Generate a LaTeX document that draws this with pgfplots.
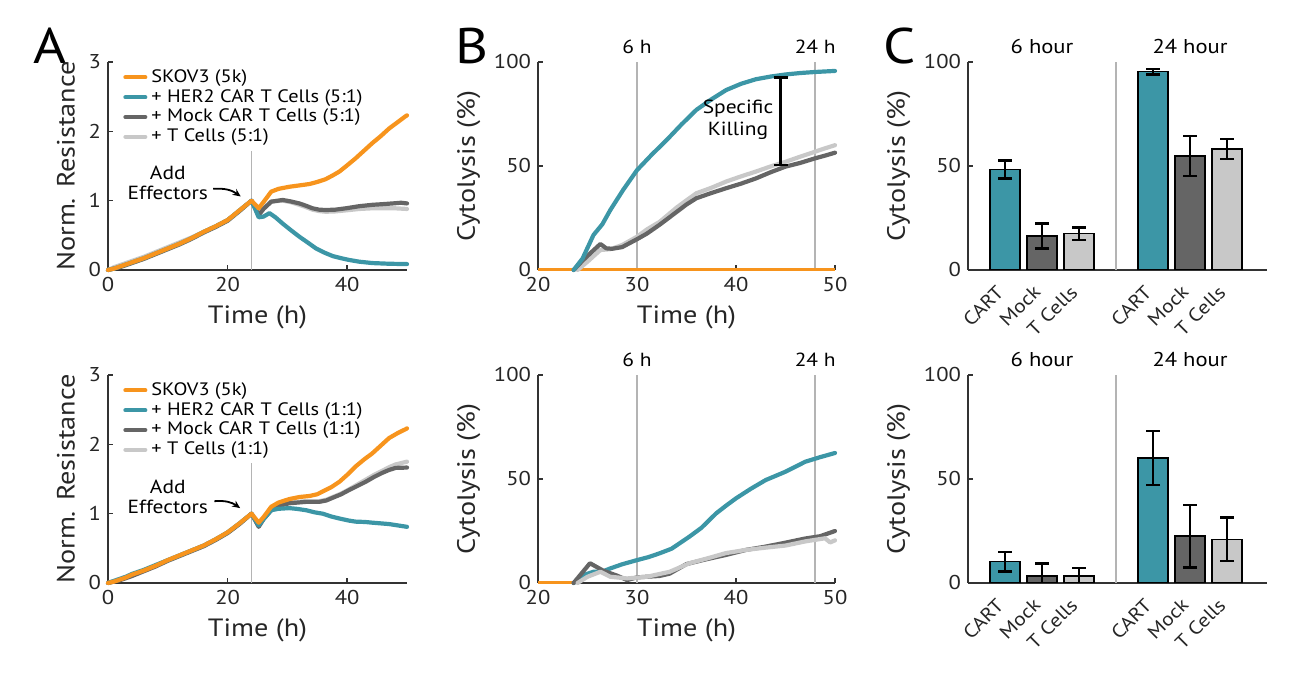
\documentclass[border=0pt]{standalone}
\usepackage{fontspec}
\setmainfont{PT Sans}[FakeStretch=1.13]
\usepackage{pgfplots}
\pgfplotsset{compat=1.18}
\usetikzlibrary{arrows.meta}
\definecolor{corange}{HTML}{F7941D}
\definecolor{cteal}{HTML}{3C96A6}
\definecolor{cdark}{HTML}{656565}
\definecolor{clight}{HTML}{C8C8C8}
\definecolor{cref}{HTML}{B4B4B4}
\definecolor{caxis}{HTML}{333333}
\pgfplotsset{
  panel/.style={
    scale only axis,
    axis lines*=left,
    axis line style={-, line width=1pt, color=caxis},
    tick style={line width=0.8pt, color=caxis},
    tick align=inside,
    major tick length=2.5pt,
    tick label style={font=\fontsize{10}{11}\selectfont, color=black!85},
    label style={font=\fontsize{12.5}{14}\selectfont, color=black!85},
    /pgf/number format/assume math mode=true,
  },
  dl/.style={line width=2.1pt, line join=round, line cap=round},
  refl/.style={line width=0.8pt, color=cref, forget plot},
  legA/.style={
    legend style={at={(0.05,0.985)}, anchor=north west, draw=none, fill=none,
      font=\fontsize{9}{10}\selectfont, row sep=-2pt, inner sep=0pt, cells={anchor=west}},
    legend image code/.code={\draw[##1, line width=2pt] (0pt,0pt) -- (10pt,0pt);},
    reverse legend,
  },
  errb/.style={error bars/.cd, y dir=both, y explicit,
    error bar style={line width=1.2pt, black},
    error mark options={rotate=90, mark size=3.5pt, line width=1.2pt, black}},
  cpanel/.style={panel, width=149.5pt, height=104pt, anchor=south west,
    xmin=0, xmax=8.08, ymin=0, ymax=100, ytick={0,50,100},
    xtick={1,2,3,5,6,7}, xticklabels={CART,Mock,T Cells,CART,Mock,T Cells},
    xticklabel style={rotate=45, anchor=east, font=\fontsize{9.5}{11}\selectfont},
    xticklabel shift=7pt,
    major x tick style={draw=none},
    clip mode=individual,
    ylabel={Cytolysis (\%)}},
}
\begin{document}
\begin{tikzpicture}
\useasboundingbox (0,0) rectangle (649.5pt,339pt);
% panel letters
\node[font=\fontsize{25}{28}\selectfont] at (25pt,316pt) {A};
\node[font=\fontsize{25}{28}\selectfont] at (236pt,316pt) {B};
\node[font=\fontsize{25}{28}\selectfont] at (450pt,316pt) {C};

% ---------------- A top ----------------
\begin{axis}[panel, legA, at={(54pt,204pt)}, anchor=south west, width=149.5pt, height=104pt,
  xmin=0, xmax=50, ymin=0, ymax=3, xtick={0,20,40}, ytick={0,1,2,3}, clip=false,
  xlabel={Time (h)}, ylabel={Norm. Resistance}]
\addplot[refl] coordinates {(24,0) (24,1.71)};
\addplot[dl, clight] coordinates {(0,0) (1,0.04) (2,0.07) (3,0.10) (4,0.13) (6,0.19) (8,0.26) (10,0.33) (12,0.40) (14,0.47) (16,0.55) (18,0.63) (20,0.72) (22,0.86) (24,1.0)
 (25.2,0.80) (26,0.89) (27.3,0.99) (29.2,1.0) (30.5,0.98) (32,0.94) (33,0.91) (34.2,0.87) (35.3,0.85) (36.4,0.84) (38,0.845) (39.8,0.86) (42,0.88) (44.2,0.89) (46,0.89) (48,0.89) (50,0.88)};
\addlegendentry{+ T Cells (5:1)}
\addplot[dl, cdark] coordinates {(0,0) (1,0.02) (2,0.04) (3,0.07) (4,0.10) (6,0.16) (8,0.23) (10,0.30) (12,0.37) (14,0.45) (16,0.54) (18,0.62) (20,0.71) (22,0.85) (24,1.0)
 (25.2,0.79) (26,0.88) (27.3,0.985) (29.2,1.01) (30.5,0.99) (32,0.96) (33,0.93) (34.2,0.89) (35.3,0.87) (36.4,0.865) (38,0.87) (39.8,0.89) (42,0.92) (44.2,0.94) (46,0.95) (47.6,0.96) (49,0.97) (50,0.96)};
\addlegendentry{+ Mock CAR T Cells (5:1)}
\addplot[dl, cteal] coordinates {(0,0) (1,0.02) (2,0.05) (3,0.08) (4,0.11) (6,0.17) (8,0.24) (10,0.31) (12,0.38) (14,0.46) (16,0.55) (18,0.63) (20,0.72) (22,0.86) (24,1.0)
 (25.2,0.76) (26,0.77) (27,0.82) (28,0.76) (29.2,0.67) (30.5,0.58) (32,0.48) (33.5,0.39) (34.8,0.31) (36.2,0.25) (37.6,0.20) (39,0.17) (40.3,0.145) (42,0.12) (44.2,0.10) (47,0.09) (50,0.085)};
\addlegendentry{+ HER2 CAR T Cells (5:1)}
\addplot[dl, corange] coordinates {(0,0) (1,0.02) (2,0.05) (3,0.08) (4,0.11) (6,0.17) (8,0.24) (10,0.31) (12,0.38) (14,0.46) (16,0.55) (18,0.63) (20,0.72) (22,0.86) (24,1.0)
 (25.2,0.89) (26,0.98) (27.3,1.13) (28.5,1.17) (30.3,1.20) (32,1.22) (33.7,1.24) (35,1.27) (36.4,1.31) (37.5,1.36) (38.7,1.42) (40,1.51) (41.4,1.61) (42.8,1.72) (44.2,1.83) (45.6,1.93) (47,2.04) (48.4,2.13) (49.8,2.22) (50,2.23)};
\addlegendentry{SKOV3 (5k)}
\node[align=center, font=\fontsize{9.5}{10}\selectfont, inner sep=0pt] at (axis cs:10,1.255) {Add\\Effectors};
\draw[-{Stealth[length=4pt,width=3.5pt]}, line width=0.9pt] (axis cs:17.6,1.17) to[bend left=20] (axis cs:22.2,1.06);
\end{axis}

% ---------------- A bottom ----------------
\begin{axis}[panel, legA, at={(54pt,47.5pt)}, anchor=south west, width=149.5pt, height=104pt,
  xmin=0, xmax=50, ymin=0, ymax=3, xtick={0,20,40}, ytick={0,1,2,3}, clip=false,
  xlabel={Time (h)}, ylabel={Norm. Resistance}]
\addplot[refl] coordinates {(24,0) (24,1.73)};
\addplot[dl, clight] coordinates {(0,0) (1,0.03) (2,0.06) (3,0.09) (4,0.12) (6,0.18) (8,0.25) (10,0.33) (12,0.40) (14,0.47) (16,0.54) (18,0.63) (20,0.73) (22,0.86) (24,1.0)
 (25.2,0.82) (26,0.93) (27.3,1.06) (28.5,1.12) (30.3,1.16) (33.1,1.18) (35.3,1.18) (36.5,1.20) (37.6,1.24) (39,1.29) (40.3,1.35) (41.7,1.42) (43.1,1.49) (44.5,1.56) (45.9,1.62) (47,1.67) (48.1,1.71) (50,1.75)};
\addlegendentry{+ T Cells (1:1)}
\addplot[dl, cdark] coordinates {(0,0) (1,0.02) (2,0.04) (3,0.07) (4,0.10) (6,0.17) (8,0.24) (10,0.32) (12,0.39) (14,0.46) (16,0.53) (18,0.62) (20,0.72) (22,0.85) (24,1.0)
 (25.2,0.81) (26,0.92) (27.3,1.05) (28.5,1.11) (30.3,1.15) (33.1,1.17) (35.3,1.17) (36.5,1.19) (37.6,1.23) (39,1.28) (40.3,1.34) (41.7,1.40) (43.1,1.46) (44.5,1.53) (45.9,1.59) (47,1.63) (48.1,1.66) (50,1.665)};
\addlegendentry{+ Mock CAR T Cells (1:1)}
\addplot[dl, cteal] coordinates {(0,0) (1,0.03) (2,0.06) (3,0.09) (4,0.13) (6,0.19) (8,0.26) (10,0.33) (12,0.40) (14,0.47) (16,0.54) (18,0.63) (20,0.73) (22,0.86) (24,1.0)
 (25.2,0.83) (26,0.92) (27.3,1.05) (28.5,1.07) (30.3,1.08) (31.5,1.07) (33.1,1.05) (34.5,1.02) (35.9,1.0) (37.3,0.96) (38.7,0.93) (40.3,0.90) (41.4,0.885) (43,0.88) (44.2,0.87) (45.6,0.86) (47,0.85) (48.5,0.83) (50,0.81)};
\addlegendentry{+ HER2 CAR T Cells (1:1)}
\addplot[dl, corange] coordinates {(0,0) (1,0.02) (2,0.05) (3,0.08) (4,0.12) (6,0.18) (8,0.25) (10,0.33) (12,0.40) (14,0.47) (16,0.54) (18,0.63) (20,0.73) (22,0.86) (24,1.0)
 (25.2,0.87) (26,0.95) (27.3,1.10) (28.5,1.16) (30.3,1.21) (32,1.24) (33.7,1.255) (35,1.28) (35.9,1.32) (37.3,1.38) (38.7,1.46) (40,1.56) (41.4,1.68) (42.8,1.78) (44.2,1.87) (45.6,1.98) (47,2.09) (48.4,2.16) (49.8,2.22) (50,2.23)};
\addlegendentry{SKOV3 (5k)}
\node[align=center, font=\fontsize{9.5}{10}\selectfont, inner sep=0pt] at (axis cs:10,1.245) {Add\\Effectors};
\draw[-{Stealth[length=4pt,width=3.5pt]}, line width=0.9pt] (axis cs:17.8,1.18) to[bend left=20] (axis cs:22.1,1.08);
\end{axis}

% ---------------- B top ----------------
\begin{axis}[panel, at={(269pt,204pt)}, anchor=south west, width=148.5pt, height=104pt,
  xmin=20, xmax=50, ymin=0, ymax=100, xtick={20,30,40,50}, ytick={0,50,100}, clip=false,
  xlabel={Time (h)}, ylabel={Cytolysis (\%)}]
\addplot[refl] coordinates {(30,0) (30,100)};
\addplot[refl] coordinates {(48,0) (48,100)};
\addplot[line width=1.5pt, corange] coordinates {(20,0) (50,0)};
\addplot[dl, clight] coordinates {(24,0) (25,4) (26.3,9.6) (27.3,10) (28.5,12) (30,16) (31,19.5) (32.3,23.2) (34,30) (35,33.5) (36,36.9) (37.5,39.5) (39,42.5) (40.5,45) (42,47.3) (43.5,49.8) (45,52) (46.5,54.5) (48,56.9) (49,58.5) (50,60)};
\addplot[dl, cdark] coordinates {(23.6,0) (24.5,4.5) (25.5,9) (26.3,12.5) (26.9,10.4) (27.5,10.2) (28.5,11) (30,14.8) (31,17.5) (32.3,21.8) (34,27.9) (35,31.5) (36,34.5) (37.5,37) (39,39.3) (40.5,41.5) (42,44) (43.5,47) (45,49.7) (46.5,51.5) (48,53.7) (49,55) (50,56.4)};
\addplot[dl, cteal] coordinates {(23.6,0) (24.5,5.5) (25.6,16.8) (26.5,22) (27.3,28.8) (28.6,38.5) (30,48) (31.5,55.5) (33,62.5) (34.5,70) (36,77) (37.5,82) (39,86.5) (40.5,89.5) (42,91.7) (43.5,93) (45,94) (46.5,94.7) (48,95.2) (50,95.7)};
\addplot[draw=none, mark=none, forget plot, errb] coordinates {(44.5,71.5) +- (0,21)};
\node[align=center, font=\fontsize{9.5}{11}\selectfont, inner sep=0pt] at (axis cs:40.2,72) {Specific\\Killing};
\node[anchor=base, font=\fontsize{9.5}{11}\selectfont] at ([yshift=4pt]axis cs:30,100) {6 h};
\node[anchor=base, font=\fontsize{9.5}{11}\selectfont] at ([yshift=4pt]axis cs:48,100) {24 h};
\end{axis}

% ---------------- B bottom ----------------
\begin{axis}[panel, at={(269pt,47.5pt)}, anchor=south west, width=148.5pt, height=104pt,
  xmin=20, xmax=50, ymin=0, ymax=100, xtick={20,30,40,50}, ytick={0,50,100}, clip=false,
  xlabel={Time (h)}, ylabel={Cytolysis (\%)}]
\addplot[refl] coordinates {(30,0) (30,100)};
\addplot[refl] coordinates {(48,0) (48,100)};
\addplot[line width=1.5pt, corange] coordinates {(20,0) (24,0)};
\addplot[dl, cteal] coordinates {(23.6,0) (24.6,3.8) (25.6,5.4) (26.5,5.5) (27.3,7.0) (28.5,9) (30,11) (31.2,12.5) (32.3,14.3) (33.5,16.5) (35.3,22.3) (36.5,26.5) (38,33.5) (39,37.2) (40,40.7) (41.5,45.3) (43,49.5) (45,53.5) (47,58.3) (48.5,60.5) (50,62.5)};
\addplot[dl, cdark] coordinates {(23.6,0) (25.25,9.5) (26.6,5.9) (28,3.5) (29,1.4) (30,2.7) (32.3,3.4) (33.3,4.5) (35,9.1) (37,11.4) (39,13.5) (41,15.9) (43,17.5) (45,19.4) (47,21.4) (48.5,22.5) (50,25)};
\addplot[dl, clight] coordinates {(24,0) (25,3) (26.3,5.4) (27.3,3.0) (29,2.2) (31,3.0) (33.3,5.4) (35.3,9.5) (37,11.7) (39,14.4) (41,15.9) (43,17) (45,18) (47,20) (49,21.5) (49.5,19.5) (50,20.5)};
\node[anchor=base, font=\fontsize{9.5}{11}\selectfont] at ([yshift=4pt]axis cs:30,100) {6 h};
\node[anchor=base, font=\fontsize{9.5}{11}\selectfont] at ([yshift=4pt]axis cs:48,100) {24 h};
\end{axis}

% ---------------- C top ----------------
\begin{axis}[cpanel, at={(484pt,204pt)}]
\addplot[refl] coordinates {(4,0) (4,100)};
\addplot[ybar, bar shift=0pt, bar width=0.81, fill=cteal, draw=black, line width=0.7pt, errb] coordinates {(1,48.3) +- (0,4.4) (5,95.3) +- (0,1.3)};
\addplot[ybar, bar shift=0pt, bar width=0.81, fill=cdark, draw=black, line width=0.7pt, errb] coordinates {(2,16.3) +- (0,6) (6,54.8) +- (0,9.5)};
\addplot[ybar, bar shift=0pt, bar width=0.81, fill=clight, draw=black, line width=0.7pt, errb] coordinates {(3,17.5) +- (0,3) (7,58.2) +- (0,4.7)};
\node[anchor=base, font=\fontsize{10}{12}\selectfont] at ([yshift=4pt]axis cs:2,100) {6 hour};
\node[anchor=base, font=\fontsize{10}{12}\selectfont] at ([yshift=4pt]axis cs:6,100) {24 hour};
\end{axis}

% ---------------- C bottom ----------------
\begin{axis}[cpanel, at={(484pt,47.5pt)}]
\addplot[refl] coordinates {(4,0) (4,100)};
\addplot[ybar, bar shift=0pt, bar width=0.81, fill=cteal, draw=black, line width=0.7pt, errb] coordinates {(1,10.3) +- (0,4.7) (5,60) +- (0,13)};
\addplot[ybar, bar shift=0pt, bar width=0.81, fill=cdark, draw=black, line width=0.7pt, errb] coordinates {(2,3.3) +- (0,6) (6,22.5) +- (0,15)};
\addplot[ybar, bar shift=0pt, bar width=0.81, fill=clight, draw=black, line width=0.7pt, errb] coordinates {(3,3.3) +- (0,4) (7,21) +- (0,10.5)};
\node[anchor=base, font=\fontsize{10}{12}\selectfont] at ([yshift=4pt]axis cs:2,100) {6 hour};
\node[anchor=base, font=\fontsize{10}{12}\selectfont] at ([yshift=4pt]axis cs:6,100) {24 hour};
\end{axis}
\end{tikzpicture}
\end{document}
